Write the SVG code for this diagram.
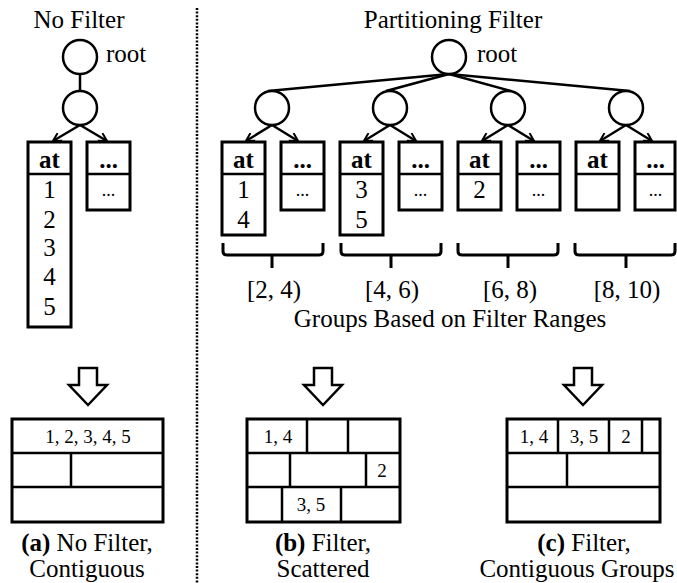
<svg xmlns="http://www.w3.org/2000/svg" width="677" height="583" viewBox="0 0 677 583" font-family="'Liberation Serif', 'Times New Roman', Times, serif">
<defs>
<marker id="ah" viewBox="0 0 10 10" refX="9" refY="5" markerWidth="10" markerHeight="10" markerUnits="userSpaceOnUse" orient="auto">
<path d="M1,0.5 L9,5 L1,9.5" fill="none" stroke="#000" stroke-width="2"/>
</marker>
</defs>
<style>
text{font-family:'Liberation Serif','Times New Roman',Times,serif;fill:#000}
.t{font-size:25px}
.c{text-anchor:middle}
.b{font-weight:bold}
.s{font-size:19px}
.d{font-size:18px}
.nd{fill:#fff;stroke:#000;stroke-width:2.5}
.bx{fill:#fff;stroke:#000;stroke-width:3}
.ln{stroke:#000;stroke-width:2.5;fill:none}
.ar{stroke:#000;stroke-width:2.5;fill:none;marker-end:url(#ah)}
.br{stroke:#000;stroke-width:3;fill:none}
.ha{fill:#fff;stroke:#000;stroke-width:2.5;stroke-linejoin:miter}
.cell{fill:#fff;stroke:#000;stroke-width:3}
</style>
<rect width="677" height="583" fill="#fff"/>

<line x1="197" y1="8" x2="197" y2="583" stroke="#000" stroke-width="2.5" stroke-dasharray="2 1.6"/>

<text class="t c" x="79" y="28">No Filter</text>
<text class="t c" x="453" y="28">Partitioning Filter</text>

<g id="connectors">
<line class="ln" x1="80" y1="74" x2="80" y2="91"/>
<line class="ar" x1="80" y1="125" x2="53" y2="141"/>
<line class="ar" x1="80" y1="125" x2="107" y2="141"/>
<line class="ln" x1="449" y1="74" x2="268" y2="91"/>
<line class="ln" x1="449" y1="74" x2="386" y2="91"/>
<line class="ln" x1="449" y1="74" x2="511" y2="91"/>
<line class="ln" x1="449" y1="74" x2="630" y2="91"/>
<line class="ar" x1="272" y1="125" x2="246" y2="141"/>
<line class="ar" x1="272" y1="125" x2="298" y2="141"/>
<line class="ar" x1="390" y1="125" x2="364" y2="141"/>
<line class="ar" x1="390" y1="125" x2="416" y2="141"/>
<line class="ar" x1="508" y1="125" x2="482" y2="141"/>
<line class="ar" x1="508" y1="125" x2="534" y2="141"/>
<line class="ar" x1="626" y1="125" x2="600" y2="141"/>
<line class="ar" x1="626" y1="125" x2="652" y2="141"/>
</g>

<g id="a-root"><circle class="nd" cx="80" cy="57" r="17"/><text class="t" x="106" y="62">root</text></g>
<g id="a-inner"><circle class="nd" cx="80" cy="108" r="17"/></g>
<g id="a-at">
<rect class="bx" x="28" y="142" width="43" height="185"/>
<line class="ln" x1="28" y1="174" x2="71" y2="174" stroke-width="3"/>
<text class="t c b" x="49.5" y="168" font-size="22">at</text>
<text class="t c" x="49.5" y="198">1</text>
<text class="t c" x="49.5" y="228">2</text>
<text class="t c" x="49.5" y="256">3</text>
<text class="t c" x="49.5" y="285">4</text>
<text class="t c" x="49.5" y="315">5</text>
</g>
<g id="a-other">
<rect class="bx" x="87" y="142" width="43" height="68"/>
<line class="ln" x1="87" y1="174" x2="130" y2="174" stroke-width="3"/>
<text class="t c b" x="108.5" y="168">...</text>
<text class="d c" x="108.5" y="196">...</text>
</g>

<g id="b-root"><circle class="nd" cx="449" cy="57" r="17"/><text class="t" x="477" y="62">root</text></g>
<g id="b-n1"><circle class="nd" cx="272" cy="108" r="17"/></g>
<g id="b-n2"><circle class="nd" cx="390" cy="108" r="17"/></g>
<g id="b-n3"><circle class="nd" cx="508" cy="108" r="17"/></g>
<g id="b-n4"><circle class="nd" cx="626" cy="108" r="17"/></g>

<g id="b-at1">
<rect class="bx" x="222" y="142" width="43" height="93"/>
<line class="ln" x1="222" y1="174" x2="265" y2="174" stroke-width="3"/>
<text class="t c b" x="243.5" y="168" font-size="22">at</text>
<text class="t c" x="243.5" y="198">1</text>
<text class="t c" x="243.5" y="228">4</text>
</g>
<g id="b-o1">
<rect class="bx" x="281" y="142" width="43" height="68"/>
<line class="ln" x1="281" y1="174" x2="324" y2="174" stroke-width="3"/>
<text class="t c b" x="302.5" y="168">...</text>
<text class="d c" x="302.5" y="196">...</text>
</g>
<g id="b-at2">
<rect class="bx" x="340" y="142" width="43" height="93"/>
<line class="ln" x1="340" y1="174" x2="383" y2="174" stroke-width="3"/>
<text class="t c b" x="361.5" y="168" font-size="22">at</text>
<text class="t c" x="361.5" y="198">3</text>
<text class="t c" x="361.5" y="228">5</text>
</g>
<g id="b-o2">
<rect class="bx" x="399" y="142" width="43" height="68"/>
<line class="ln" x1="399" y1="174" x2="442" y2="174" stroke-width="3"/>
<text class="t c b" x="420.5" y="168">...</text>
<text class="d c" x="420.5" y="196">...</text>
</g>
<g id="b-at3">
<rect class="bx" x="458" y="142" width="43" height="68"/>
<line class="ln" x1="458" y1="174" x2="501" y2="174" stroke-width="3"/>
<text class="t c b" x="479.5" y="168" font-size="22">at</text>
<text class="t c" x="479.5" y="198">2</text>
</g>
<g id="b-o3">
<rect class="bx" x="517" y="142" width="43" height="68"/>
<line class="ln" x1="517" y1="174" x2="560" y2="174" stroke-width="3"/>
<text class="t c b" x="538.5" y="168">...</text>
<text class="d c" x="538.5" y="196">...</text>
</g>
<g id="b-at4">
<rect class="bx" x="576" y="142" width="43" height="68"/>
<line class="ln" x1="576" y1="174" x2="619" y2="174" stroke-width="3"/>
<text class="t c b" x="597.5" y="168" font-size="22">at</text>
</g>
<g id="b-o4">
<rect class="bx" x="635" y="142" width="40" height="68"/>
<line class="ln" x1="635" y1="174" x2="675" y2="174" stroke-width="3"/>
<text class="t c b" x="655.5" y="168">...</text>
<text class="d c" x="655.5" y="196">...</text>
</g>

<g id="brackets">
<path class="br" d="M223,243 L223,251 Q223,255 227,255 L319,255 Q323,255 323,251 L323,243 M272,255 L272,268"/>
<path class="br" d="M341,243 L341,251 Q341,255 345,255 L437,255 Q441,255 441,251 L441,243 M391,255 L391,268"/>
<path class="br" d="M458,243 L458,251 Q458,255 462,255 L554,255 Q558,255 558,251 L558,243 M508,255 L508,268"/>
<path class="br" d="M575,243 L575,251 Q575,255 579,255 L671,255 Q675,255 675,251 L675,243 M626,255 L626,268"/>
<text class="t c" x="274" y="298">[2, 4)</text>
<text class="t c" x="392" y="298">[4, 6)</text>
<text class="t c" x="510" y="298">[6, 8)</text>
<text class="t c" x="627" y="298">[8, 10)</text>
<text class="t c" x="450" y="327">Groups Based on Filter Ranges</text>
</g>

<g id="arrows-down">
<polygon class="ha" points="79,368 97,368 97,385 107,385 88,405 69,385 79,385"/>
<polygon class="ha" points="314,368 332,368 332,385 342,385 323,405 304,385 314,385"/>
<polygon class="ha" points="574,368 592,368 592,385 602,385 583,405 564,385 574,385"/>
</g>

<g id="layout-a">
<rect class="cell" x="12" y="419" width="151" height="103"/>
<line class="ln" stroke-width="3" x1="12" y1="453" x2="163" y2="453"/>
<line class="ln" stroke-width="3" x1="12" y1="487" x2="163" y2="487"/>
<line class="ln" stroke-width="3" x1="71" y1="453" x2="71" y2="487"/>
<text class="s c" x="88" y="443">1, 2, 3, 4, 5</text>
<text class="t c" x="87" y="551"><tspan class="b">(a)</tspan> No Filter,</text>
<text class="t c" x="87" y="577">Contiguous</text>
</g>

<g id="layout-b">
<rect class="cell" x="247" y="419" width="153" height="103"/>
<line class="ln" stroke-width="3" x1="247" y1="453" x2="400" y2="453"/>
<line class="ln" stroke-width="3" x1="247" y1="487" x2="400" y2="487"/>
<line class="ln" stroke-width="3" x1="307" y1="419" x2="307" y2="453"/>
<line class="ln" stroke-width="3" x1="348" y1="419" x2="348" y2="453"/>
<line class="ln" stroke-width="3" x1="290" y1="453" x2="290" y2="487"/>
<line class="ln" stroke-width="3" x1="366" y1="453" x2="366" y2="487"/>
<line class="ln" stroke-width="3" x1="282" y1="487" x2="282" y2="522"/>
<line class="ln" stroke-width="3" x1="341" y1="487" x2="341" y2="522"/>
<text class="s c" x="278" y="443">1, 4</text>
<text class="s c" x="382" y="477">2</text>
<text class="s c" x="311" y="511">3, 5</text>
<text class="t c" x="323" y="551"><tspan class="b">(b)</tspan> Filter,</text>
<text class="t c" x="323" y="577">Scattered</text>
</g>

<g id="layout-c">
<rect class="cell" x="507" y="419" width="153" height="103"/>
<line class="ln" stroke-width="3" x1="507" y1="453" x2="660" y2="453"/>
<line class="ln" stroke-width="3" x1="507" y1="487" x2="660" y2="487"/>
<line class="ln" stroke-width="3" x1="558" y1="419" x2="558" y2="453"/>
<line class="ln" stroke-width="3" x1="609" y1="419" x2="609" y2="453"/>
<line class="ln" stroke-width="3" x1="642" y1="419" x2="642" y2="453"/>
<line class="ln" stroke-width="3" x1="567" y1="453" x2="567" y2="487"/>
<text class="s c" x="534" y="443">1, 4</text>
<text class="s c" x="584" y="443">3, 5</text>
<text class="s c" x="626" y="443">2</text>
<text class="t c" x="584" y="551"><tspan class="b">(c)</tspan> Filter,</text>
<text class="t c" x="577" y="577">Contiguous Groups</text>
</g>
</svg>
